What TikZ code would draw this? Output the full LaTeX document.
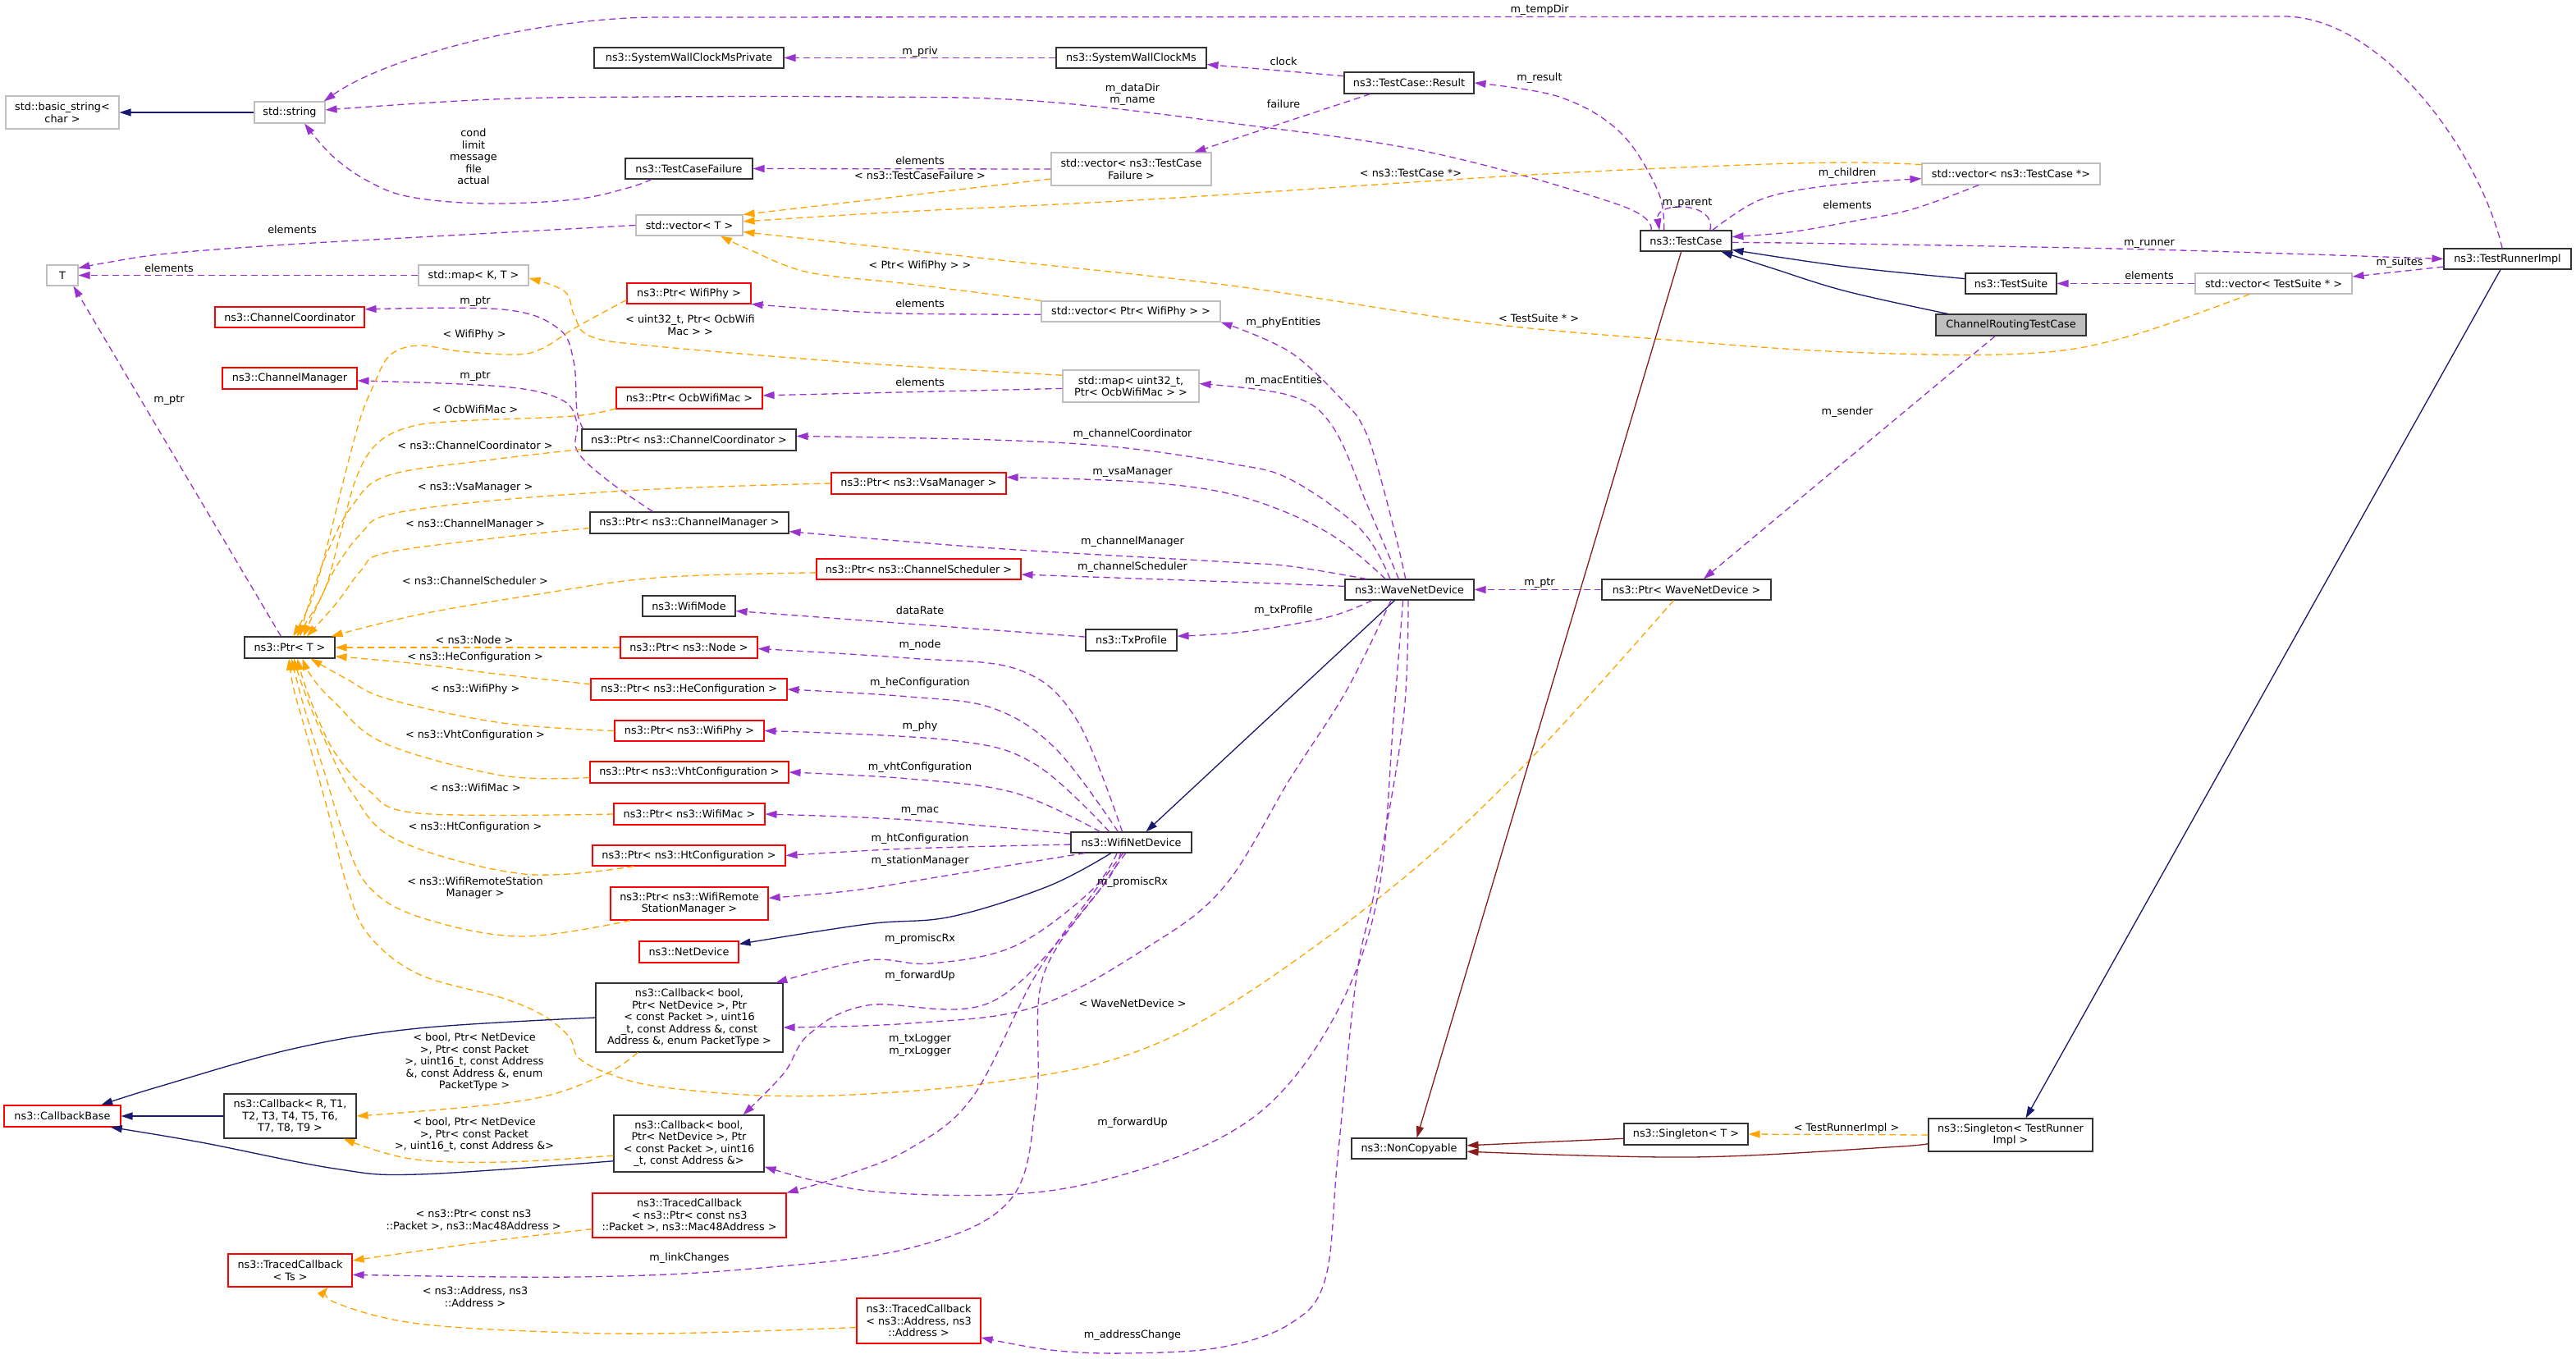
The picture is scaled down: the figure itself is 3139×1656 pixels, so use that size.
\documentclass[tikz,border=0pt]{standalone}
\usepackage{fontspec}
\setmainfont{DejaVu Sans}
\usetikzlibrary{arrows.meta}
\newcommand\dfont{\fontsize{12.8}{14.5}\selectfont}
\definecolor{purp}{HTML}{9A32CD}
\definecolor{orng}{HTML}{FFA500}
\definecolor{navyb}{HTML}{191970}
\definecolor{fireb}{HTML}{8B1A1A}
\definecolor{grayb}{HTML}{BFBFBF}
\begin{document}
\begin{tikzpicture}[x=1pt,y=-1pt,
  box/.style={draw, line width=1.1pt, inner sep=0pt, align=center, font=\dfont, fill=white},
  bk/.style={box, draw=black!80},
  gr/.style={box, draw=grayb},
  rd/.style={box, draw=red},
  sz/.style 2 args={minimum width=#1pt, minimum height=#2pt},
  lbl/.style={inner sep=0pt, align=center, font=\dfont},
  cn/.style={line width=1.3pt, -{Triangle[length=14pt,width=9pt]}},
  pe/.style={cn, draw=purp, dash pattern=on 8pt off 5pt},
  oe/.style={cn, draw=orng, dash pattern=on 8pt off 5pt},
  ne/.style={cn, draw=navyb},
  fe/.style={cn, draw=fireb},
  sm/.style={smooth, tension=0.6}
]
\fill[white] (0,0) rectangle (3139,1656);
\useasboundingbox (0,0) rectangle (3139,1656);

% ---------------- nodes ----------------
\node[gr,sz={138}{40}] (bstr) at (76,137) {std::basic\_string<\\char >};
\node[gr,sz={86}{26}] (sstr) at (353,137) {std::string};
\node[bk,sz={231}{25}] (swcmp) at (839.5,70.5) {ns3::SystemWallClockMsPrivate};
\node[bk,sz={183}{25}] (swcm) at (1378.5,70.5) {ns3::SystemWallClockMs};
\node[bk,sz={158}{26}] (tcres) at (1717,101) {ns3::TestCase::Result};
\node[bk,sz={155}{25}] (tcf) at (839.5,205.5) {ns3::TestCaseFailure};
\node[gr,sz={195}{40}] (vtcf) at (1378.5,206) {std::vector< ns3::TestCase\\Failure >};
\node[gr,sz={130}{25}] (vt) at (840,274.5) {std::vector< T >};
\node[gr,sz={38}{25}] (tt) at (76,335.5) {T};
\node[gr,sz={134}{25}] (mkt) at (577,335.5) {std::map< K, T >};
\node[rd,sz={182}{25}] (chc) at (353,386.5) {ns3::ChannelCoordinator};
\node[rd,sz={164}{26}] (chm) at (353,461) {ns3::ChannelManager};
\node[rd,sz={151}{25}] (pwp) at (839.5,357.5) {ns3::Ptr< WifiPhy >};
\node[gr,sz={218}{25}] (vpwp) at (1378,379.5) {std::vector< Ptr< WifiPhy > >};
\node[gr,sz={166}{39}] (mu) at (1378,470.5) {std::map< uint32\_t,\\Ptr< OcbWifiMac > >};
\node[rd,sz={178}{26}] (pocb) at (840,485) {ns3::Ptr< OcbWifiMac >};
\node[bk,sz={261}{26}] (pcc) at (839.5,536) {ns3::Ptr< ns3::ChannelCoordinator >};
\node[rd,sz={213}{26}] (pvsa) at (1119.5,589) {ns3::Ptr< ns3::VsaManager >};
\node[bk,sz={242}{26}] (pcm) at (840,637) {ns3::Ptr< ns3::ChannelManager >};
\node[rd,sz={249}{25}] (pcs) at (1119.5,693.5) {ns3::Ptr< ns3::ChannelScheduler >};
\node[bk,sz={113}{25}] (wmode) at (839.5,738.5) {ns3::WifiMode};
\node[bk,sz={111}{26}] (txp) at (1378.5,780) {ns3::TxProfile};
\node[rd,sz={167}{26}] (pnode) at (839.5,789) {ns3::Ptr< ns3::Node >};
\node[rd,sz={239}{26}] (phe) at (839.5,840) {ns3::Ptr< ns3::HeConfiguration >};
\node[rd,sz={182}{25}] (pphy) at (840,890.5) {ns3::Ptr< ns3::WifiPhy >};
\node[rd,sz={242}{26}] (pvht) at (840,941) {ns3::Ptr< ns3::VhtConfiguration >};
\node[rd,sz={184}{26}] (pmac) at (840,992) {ns3::Ptr< ns3::WifiMac >};
\node[rd,sz={235}{25}] (pht) at (839.5,1042.5) {ns3::Ptr< ns3::HtConfiguration >};
\node[rd,sz={192}{40}] (pwrsm) at (840,1101) {ns3::Ptr< ns3::WifiRemote\\StationManager >};
\node[rd,sz={121}{26}] (nd) at (839.5,1160) {ns3::NetDevice};
\node[bk,sz={228}{84}] (cbf) at (840,1240) {ns3::Callback< bool,\\Ptr< NetDevice >, Ptr\\< const Packet >, uint16\\\_t, const Address \&, const\\Address \&, enum PacketType >};
\node[bk,sz={183}{69}] (cbq) at (839.5,1393.5) {ns3::Callback< bool,\\Ptr< NetDevice >, Ptr\\< const Packet >, uint16\\\_t, const Address \&>};
\node[rd,sz={236}{54}] (tcm) at (840,1481) {ns3::TracedCallback\\< ns3::Ptr< const ns3\\::Packet >, ns3::Mac48Address >};
\node[rd,sz={151}{55}] (tca) at (1119.5,1609.5) {ns3::TracedCallback\\< ns3::Address, ns3\\::Address >};
\node[bk,sz={110}{26}] (ptrT) at (353,789) {ns3::Ptr< T >};
\node[rd,sz={142}{26}] (cbb) at (76,1360) {ns3::CallbackBase};
\node[bk,sz={161}{54}] (cbr) at (353.5,1360) {ns3::Callback< R, T1,\\T2, T3, T4, T5, T6,\\T7, T8, T9 >};
\node[rd,sz={151}{40}] (tts) at (353.5,1548) {ns3::TracedCallback\\< Ts >};
\node[bk,sz={147}{25}] (wifi) at (1378.5,1026.5) {ns3::WifiNetDevice};
\node[bk,sz={157}{25}] (wave) at (1717.5,718.5) {ns3::WaveNetDevice};
\node[bk,sz={206}{25}] (pwave) at (2055,718.5) {ns3::Ptr< WaveNetDevice >};
\node[bk,sz={111}{25}] (tc) at (2054.5,293.5) {ns3::TestCase};
\node[gr,sz={217}{26}] (vtc) at (2450.5,212) {std::vector< ns3::TestCase *>};
\node[bk,sz={111}{25}] (ts) at (2450.5,345.5) {ns3::TestSuite};
\node[gr,sz={191}{25}] (vts) at (2770.5,345.5) {std::vector< TestSuite * >};
\node[bk,sz={183}{26},fill=grayb] (crtc) at (2450.5,396) {ChannelRoutingTestCase};
\node[bk,sz={155}{25}] (tri) at (3055.5,315.5) {ns3::TestRunnerImpl};
\node[bk,sz={140}{25}] (nc) at (1717,1399.5) {ns3::NonCopyable};
\node[bk,sz={151}{26}] (sgt) at (2054.5,1382) {ns3::Singleton< T >};
\node[bk,sz={200}{40}] (sgtr) at (2450,1383) {ns3::Singleton< TestRunner\\Impl >};

% ---------------- connectors ----------------
\draw[ne] (sstr.west) -- (bstr.east);
\draw[pe] (tri.116) .. controls (3020,180) and (2900,20) .. (2783,20) -- (800,21) .. controls (650,22) and (470,70) .. (sstr.18);
\draw[pe] (swcm.west) -- (swcmp.east);
\draw[pe] (tcres.174) -- (swcm.-5);
\draw[pe] (tcres.-164) -- (vtcf.15);
\draw[pe] plot[sm] coordinates {(tc.154) (2020,232) (1974,161) (1900,118) (tcres.east)};
\draw[pe] plot[sm] coordinates {(tc.163) (1974,250) (1744,186) (1500,150) (1261,123) (1057,118) (800,118) (600,121) (sstr.4)};
\draw[pe] (tc.24) .. controls (2092,245) and (2016,245) .. (tc.158);
\draw[pe] plot[sm] coordinates {(tcf.-164) (765,229) (700,243) (592,248) (500,240) (449,221) (405,190) (sstr.-37)};
\draw[pe] (vtcf.west) -- (tcf.east);
\draw[oe] (vtcf.187) -- (vt.north east);
\draw[oe] plot[sm] coordinates {(vtc.174) (2250,198) (2100,202) (1848,214) (1400,243) (1100,258) (vt.4)};
\draw[oe] plot[sm] coordinates {(vts.-156) (2590,411) (2465,431) (2250,429) (2031,414) (1802,393) (1500,348) (1200,315) (vt.-7)};
\draw[oe] plot[sm] coordinates {(vpwp.north west) (1108,346) (986,332) (915,305) (vt.-19)};
\draw[pe] plot[sm] coordinates {(vpwp.182) (1100,382) (1000,377) (pwp.south east)};
\draw[pe] plot[sm] coordinates {(vt.west) (510,289) (350,298) (204,309) (130,320) (tt.24)};
\draw[pe] (mkt.west) -- (tt.east);
\draw[oe] plot[sm] coordinates {(mu.171) (1057,443) (800,422) (720,410) (700,385) (688,355) (mkt.-3)};
\draw[pe] (mu.182) -- (pocb.2);
\draw[pe] (ptrT.128) -- (tt.-44);
\draw[pe] plot[sm] coordinates {(pcc.174) (703,500) (699,440) (680,400) (612,377) (chc.6)};
\draw[pe] plot[sm] coordinates {(pcm.163) (740,585) (703,549) (703,515) (684,487) (612,471) (chm.-2)};

% fan into Ptr< T >
\draw[oe] plot[sm] coordinates {(pwp.186) (740,378) (700,400) (660,425) (628,432) (560,428) (510,421) (475,433) (455,470) (439,510) (420,580) (400,660) (380,730) (ptrT.73)};
\draw[oe] plot[sm] coordinates {(pocb.188) (699,507) (560,513) (500,520) (460,540) (435,580) (415,650) (395,720) (ptrT.58)};
\draw[oe] plot[sm] coordinates {(pcc.185) (600,560) (474,579) (430,615) (398,675) (375,740) (ptrT.47)};
\draw[oe] plot[sm] coordinates {(pvsa.west) (800,596) (600,610) (474,627) (440,650) (410,690) (388,735) (ptrT.39)};
\draw[oe] plot[sm] coordinates {(pcm.183) (600,656) (469,674) (440,695) (410,735) (ptrT.33)};
\draw[oe] plot[sm] coordinates {(pcs.182) (800,704) (650,725) (510,749) (ptrT.15)};
\draw[oe] (pnode.west) -- (ptrT.east);
\draw[oe] plot[sm] coordinates {(phe.177) (612,822) (500,808) (ptrT.-11)};
\draw[oe] plot[sm] coordinates {(pphy.west) (612,881) (474,852) (420,826) (ptrT.-28)};
\draw[oe] plot[sm] coordinates {(pvht.183) (612,945) (469,906) (408,856) (380,825) (ptrT.-41)};
\draw[oe] plot[sm] coordinates {(pmac.west) (510,991) (449,963) (410,920) (388,877) (370,830) (ptrT.-55)};
\draw[oe] plot[sm] coordinates {(pht.-169) (638,1065) (485,1024) (429,966) (395,900) (370,840) (ptrT.-69)};
\draw[oe] plot[sm] coordinates {(pwrsm.-164) (633,1141) (510,1117) (449,1080) (420,1020) (395,940) (370,860) (ptrT.-81)};
\draw[oe] plot[sm] coordinates {(pwave.-140) (1859,931) (1698,1080) (1500,1223) (1363,1289) (1210,1319) (1057,1333) (930,1335) (802,1324) (741,1308) (705,1289) (694,1264) (663,1238) (612,1216) (510,1187) (449,1139) (423,1080) (400,990) (375,900) (358,840) (ptrT.-94)};

% WaveNetDevice members
\draw[pe] plot[sm] coordinates {(wave.110) (1700,650) (1676,560) (1661,520) (1641,493) (1572,429) (vpwp.south east)};
\draw[pe] plot[sm] coordinates {(wave.135) (1668,620) (1624,520) (1572,482) (mu.2)};
\draw[pe] plot[sm] coordinates {(wave.151) (1658,645) (1572,584) (1500,565) (1363,545) (1210,536) (pcc.2)};
\draw[pe] plot[sm] coordinates {(wave.156) (1618,649) (1515,606) (1400,588) (pvsa.4)};
\draw[pe] plot[sm] coordinates {(wave.166) (1572,690) (1500,685) (1210,668) (pcm.-5)};
\draw[pe] plot[sm] coordinates {(wave.177) (1500,709) (pcs.-3)};
\draw[pe] plot[sm] coordinates {(wave.-164) (1618,752) (1515,770) (txp.5)};
\draw[pe] (txp.176) -- (wmode.-6);
\draw[ne] (wave.-144) -- (wifi.36);
\draw[pe] (pwave.west) -- (wave.east);
\draw[pe] plot[sm] coordinates {(wave.-150) (1641,841) (1572,949) (1492,1080) (1400,1153) (1261,1227) (1108,1247) (cbf.-6)};
\draw[pe] plot[sm] coordinates {(wave.-121) (1698,877) (1681,1080) (1641,1209) (1572,1319) (1490,1385) (1363,1433) (1236,1455) (1057,1451) (cbq.-17)};
\draw[pe] plot[sm] coordinates {(wave.-97) (1710,877) (1676,1080) (1653,1190) (1630,1411) (1615,1558) (1572,1613) (1486,1642) (1370,1649) (1280,1645) (tca.-15)};

% WifiNetDevice members
\draw[pe] plot[sm] coordinates {(wifi.130) (1312,877) (1241,816) (1108,802) (pnode.-1)};
\draw[pe] plot[sm] coordinates {(wifi.141) (1287,913) (1210,863) (1108,849) (phe.east)};
\draw[pe] plot[sm] coordinates {(wifi.154) (1261,931) (1159,902) (pphy.east)};
\draw[pe] plot[sm] coordinates {(wifi.161) (1236,966) (1108,949) (pvht.east)};
\draw[pe] plot[sm] coordinates {(wifi.172) (1108,999) (pmac.east)};
\draw[pe] plot[sm] coordinates {(wifi.182) (1108,1034) (pht.east)};
\draw[pe] plot[sm] coordinates {(wifi.-167) (1159,1066) (1040,1085) (pwrsm.4)};
\draw[ne] plot[sm] coordinates {(wifi.-152) (1277,1080) (1159,1117) (1057,1126) (nd.9)};
\draw[pe] plot[sm] coordinates {(wifi.-143) (1328,1087) (1236,1153) (1134,1174) (1057,1170) (cbf.22)};
\draw[pe] plot[sm] coordinates {(wifi.-135) (1338,1087) (1210,1220) (1057,1225) (986,1260) (955,1308) (cbq.28)};
\draw[pe] plot[sm] coordinates {(wifi.-127) (1333,1087) (1261,1190) (1185,1337) (1108,1400) (1027,1433) (tcm.north east)};
\draw[pe] plot[sm] coordinates {(wifi.-117) (1343,1080) (1271,1190) (1263,1337) (1231,1462) (1108,1521) (904,1547) (700,1556) (tts.-4)};

% callbacks
\draw[oe] plot[sm] coordinates {(cbf.-146) (735,1310) (638,1341) (cbr.east)};
\draw[oe] plot[sm] coordinates {(cbq.-171) (612,1416) (500,1412) (cbr.-23)};
\draw[ne] plot[sm] coordinates {(cbf.west) (510,1253) (357,1278) (194,1324) (cbb.16)};
\draw[ne] plot[sm] coordinates {(cbq.193) (510,1431) (408,1424) (245,1392) (cbb.-13)};
\draw[ne] (cbr.west) -- (cbb.east);
\draw[oe] plot[sm] coordinates {(tcm.188) (600,1512) (tts.9)};
\draw[oe] plot[sm] coordinates {(tca.-174) (853,1624) (700,1624) (510,1613) (408,1587) (tts.-24)};

% test classes
\draw[pe] plot[sm] coordinates {(tc.22) (2146,243) (2230,226) (vtc.183)};
\draw[pe] plot[sm] coordinates {(vtc.-161) (2330,255) (2250,271) (2180,283) (tc.5)};
\draw[pe] plot[sm] coordinates {(tc.-2) (2250,297) (2619,304) (tri.west)};
\draw[pe] (tri.187) -- (vts.5);
\draw[pe] (vts.west) -- (ts.east);
\draw[ne] plot[sm] coordinates {(ts.174) (2250,325) (tc.-11)};
\draw[ne] plot[sm] coordinates {(crtc.170) (2250,355) (2160,327) (tc.-17)};
\draw[pe] (crtc.-145) -- (pwave.32);
\draw[fe] (tc.-114) -- (nc.54);
\draw[fe] (sgt.184) -- (nc.3);
\draw[fe] plot[sm] coordinates {(sgtr.186) (2300,1398) (2060,1410) (nc.-3)};
\draw[oe] (sgtr.west) -- (sgt.east);
\draw[ne] (tri.-123) -- (sgtr.48);

% ---------------- labels ----------------
\node[lbl] (l1) at (1876,12) {m\_tempDir};
\node[lbl] (l2) at (1121,63) {m\_priv};
\node[lbl] (l3) at (1564,75) {clock};
\node[lbl] (l4) at (1876,95) {m\_result};
\node[lbl] (l5) at (1380,115) {m\_dataDir\\m\_name};
\node[lbl] (l6) at (1564,127) {failure};
\node[lbl] (l7) at (577,191) {cond\\limit\\message\\file\\actual};
\node[lbl] (l8) at (1121,196) {elements};
\node[lbl] (l9) at (1121,214) {< ns3::TestCaseFailure >};
\node[lbl] (l10) at (1719,211) {< ns3::TestCase *>};
\node[lbl] (l11) at (2251,211) {m\_children};
\node[lbl] (l12) at (2056,248) {m\_parent};
\node[lbl] (l13) at (2251,250) {elements};
\node[lbl] (l14) at (356,280) {elements};
\node[lbl] (l15) at (2619,297) {m\_runner};
\node[lbl] (l16) at (2924,320) {m\_suites};
\node[lbl] (l17) at (2619,336) {elements};
\node[lbl] (l18) at (206,327) {elements};
\node[lbl] (l19) at (1121,324) {< Ptr< WifiPhy > >};
\node[lbl] (l20) at (1121,370) {elements};
\node[lbl] (l21) at (579,368) {m\_ptr};
\node[lbl] (l22) at (1875,388) {< TestSuite * >};
\node[lbl] (l23) at (1564,393) {m\_phyEntities};
\node[lbl] (l24) at (841,396) {< uint32\_t, Ptr< OcbWifi\\Mac > >};
\node[lbl] (l25) at (578,408) {< WifiPhy >};
\node[lbl] (l26) at (579,459) {m\_ptr};
\node[lbl] (l27) at (1121,466) {elements};
\node[lbl] (l28) at (1564,464) {m\_macEntities};
\node[lbl] (l29) at (206,488) {m\_ptr};
\node[lbl] (l30) at (579,499) {< OcbWifiMac >};
\node[lbl] (l31) at (2251,502) {m\_sender};
\node[lbl] (l32) at (1380,529) {m\_channelCoordinator};
\node[lbl] (l33) at (579,543) {< ns3::ChannelCoordinator >};
\node[lbl] (l34) at (1380,575) {m\_vsaManager};
\node[lbl] (l35) at (579,594) {< ns3::VsaManager >};
\node[lbl] (l36) at (579,639) {< ns3::ChannelManager >};
\node[lbl] (l37) at (1380,660) {m\_channelManager};
\node[lbl] (l38) at (1380,691) {m\_channelScheduler};
\node[lbl] (l39) at (579,708) {< ns3::ChannelScheduler >};
\node[lbl] (l40) at (1876,711) {m\_ptr};
\node[lbl] (l41) at (1121,744) {dataRate};
\node[lbl] (l42) at (1564,744) {m\_txProfile};
\node[lbl] (l43) at (578,780) {< ns3::Node >};
\node[lbl] (l44) at (1121,786) {m\_node};
\node[lbl] (l45) at (579,801) {< ns3::HeConfiguration >};
\node[lbl] (l46) at (1121,832) {m\_heConfiguration};
\node[lbl] (l47) at (579,840) {< ns3::WifiPhy >};
\node[lbl] (l48) at (1121,885) {m\_phy};
\node[lbl] (l49) at (579,896) {< ns3::VhtConfiguration >};
\node[lbl] (l50) at (1121,935) {m\_vhtConfiguration};
\node[lbl] (l51) at (579,960) {< ns3::WifiMac >};
\node[lbl] (l52) at (1121,988) {m\_mac};
\node[lbl] (l53) at (579,1008) {< ns3::HtConfiguration >};
\node[lbl] (l54) at (1121,1022) {m\_htConfiguration};
\node[lbl] (l55) at (1121,1049) {m\_stationManager};
\node[lbl] (l56) at (1380,1075) {m\_promiscRx};
\node[lbl] (l57) at (579,1082) {< ns3::WifiRemoteStation\\Manager >};
\node[lbl] (l58) at (1121,1144) {m\_promiscRx};
\node[lbl] (l59) at (1121,1189) {m\_forwardUp};
\node[lbl] (l60) at (1380,1223) {< WaveNetDevice >};
\node[lbl] (l61) at (1121,1274) {m\_txLogger\\m\_rxLogger};
\node[lbl] (l62) at (578,1294) {< bool, Ptr< NetDevice\\>, Ptr< const Packet\\>, uint16\_t, const Address\\\&, const Address \&, enum\\PacketType >};
\node[lbl] (l63) at (1380,1368) {m\_forwardUp};
\node[lbl] (l64) at (578,1383) {< bool, Ptr< NetDevice\\>, Ptr< const Packet\\>, uint16\_t, const Address \&>};
\node[lbl] (l65) at (2250,1375) {< TestRunnerImpl >};
\node[lbl] (l66) at (577,1487) {< ns3::Ptr< const ns3\\::Packet >, ns3::Mac48Address >};
\node[lbl] (l67) at (840,1533) {m\_linkChanges};
\node[lbl] (l68) at (579,1580) {< ns3::Address, ns3\\::Address >};
\node[lbl] (l69) at (1380,1627) {m\_addressChange};
\end{tikzpicture}
\end{document}
